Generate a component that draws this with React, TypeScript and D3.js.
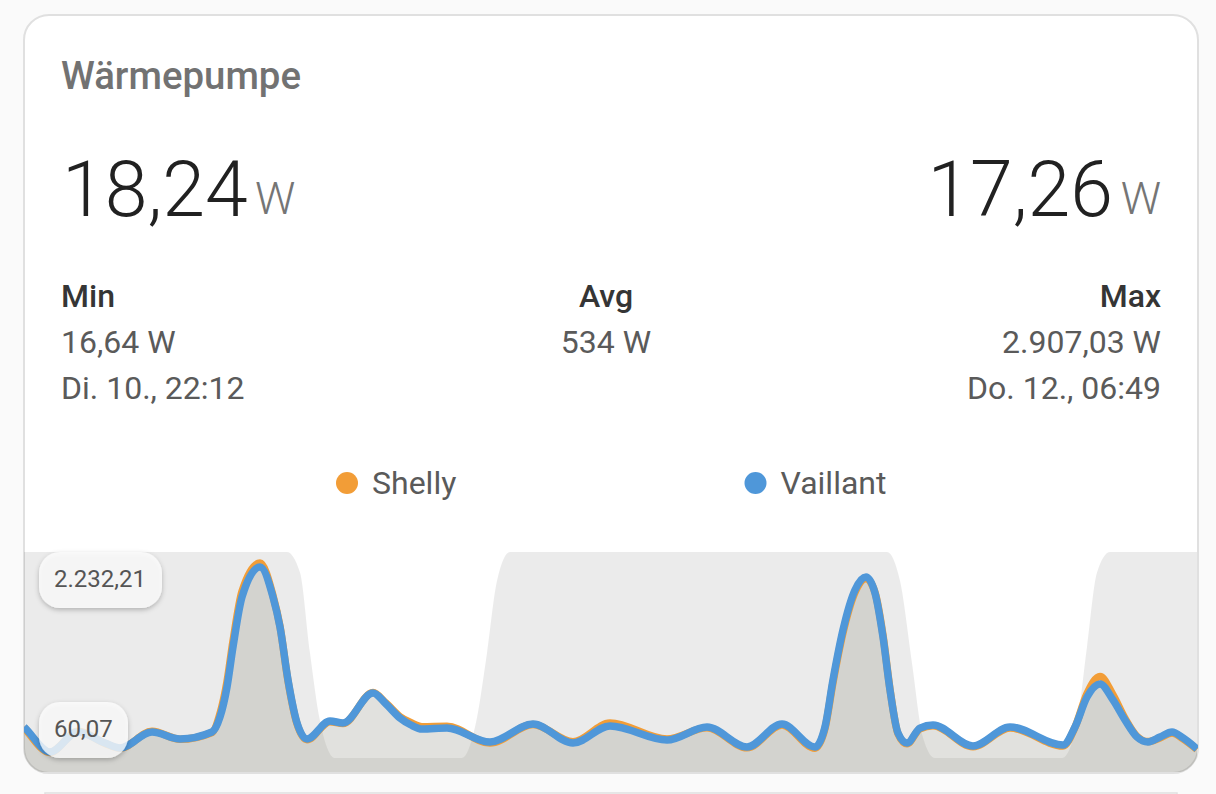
import React from "react";
import * as d3 from "d3";

const title = "Wärmepumpe";
const legendNames = ["Shelly", "Vaillant"];
const seriesColors = ["#f29d37", "#4f97d9"];
const currentValues = ["18,24", "17,26"];
const statHeads = ["Min", "Avg", "Max"];
const statValues = ["16,64 W", "534 W", "2.907,03 W"];
const statTimes = ["Di. 10., 22:12", "", "Do. 12., 06:49"];
const pillLabels = ["2.232,21", "60,07"];

const times = [0,1,26,54,81,96,128,156,188,196,203,209,218,236,249,256,264,273,283,306,319,349,362,376,387,398,423,466,509,549,586,643,683,723,758,791,801,809,819,831,842,851,859,866,874,883,896,909,949,986,1039,1051,1063,1076,1089,1101,1113,1124,1136,1148,1159,1173];
const vaillant = [320,309,24,262,131,72,262,179,262,440,796,1271,1864,2220,1864,1508,879,369,179,392,369,725,594,428,345,297,309,143,357,131,333,167,321,84,357,84,321,879,1473,1947,2102,1912,1389,760,250,131,309,345,96,321,107,321,677,832,642,404,202,143,202,262,191,60];
const shelly = [320,305,20,270,127,68,270,175,256,480,860,1340,1930,2268,1880,1515,870,360,170,385,362,730,604,444,372,325,329,130,350,146,369,179,312,74,345,70,305,850,1440,1920,2085,1920,1410,770,242,122,300,335,88,310,95,318,717,922,702,424,210,148,192,250,182,55];

const bandTimes = [0,263,276,286,296,311,438,451,463,473,486,863,876,888,899,911,1038,1053,1063,1073,1086,1173];
const bandLevels = [100,100,90,51,18,0,0,15,51,86,100,100,86,46,10,0,0,17,54,90,100,100];

const W = 1216, H = 794;
const L = 24, R = 1197, CHART_BOTTOM = 772;

const x = d3.scaleLinear().domain([0, 1173]).range([L, R]);
const y = d3.scaleLinear().domain([60.07, 2232.21]).range([749, 566]);
const yBand = d3.scaleLinear().domain([0, 100]).range([758, 552]);

const line = d3.line<number>().x((_, i) => x(times[i])).y((d) => y(d)).curve(d3.curveMonotoneX);
const area = d3.area<number>().x((_, i) => x(times[i])).y0(CHART_BOTTOM).y1((d) => y(d)).curve(d3.curveMonotoneX);
const bandArea = d3.area<number>().x((_, i) => x(bandTimes[i])).y0(CHART_BOTTOM).y1((d) => yBand(d)).curve(d3.curveMonotoneX);

const font = "Roboto, sans-serif";

function Pill({ px, py, w, h, label }: { px: number; py: number; w: number; h: number; label: string }) {
  return (
    <g>
      <rect x={px} y={py} width={w} height={h} rx={21} fill="#fff" fillOpacity={0.76} filter="url(#pillShadow)" />
      <text x={px + 15} y={py + h / 2 + 7} fontFamily={font} fontSize={24} fill="#555">{label}</text>
    </g>
  );
}

export default function App() {
  return (
    <svg width={W} height={H} style={{ position: "fixed", left: 0, top: 0 }}>
      <defs>
        <clipPath id="cardClip">
          <rect x={24} y={16} width={1174} height={757} rx={24} />
        </clipPath>
        <filter id="pillShadow" x="-30%" y="-30%" width="160%" height="170%">
          <feDropShadow dx={0} dy={2} stdDeviation={2.5} floodColor="#000" floodOpacity={0.32} />
        </filter>
      </defs>
      <rect width={W} height={H} fill="#fafafa" />
      <rect x={45} y={793} width={1132} height={20} fill="#fff" stroke="#e0e0e0" strokeWidth={1.5} />
      <rect x={24} y={15} width={1174} height={758} rx={25} fill="#fff" stroke="#e0e0e0" strokeWidth={2} />

      <text x={61} y={89} fontFamily={font} fontWeight={500} fontSize={38.4} fill="#727272">{title}</text>

      <text x={62} y={216} fontFamily={font} fontWeight={300} fontSize={77} fill="#212121">{currentValues[0]}</text>
      <text x={255} y={214} fontFamily={font} fontWeight={300} fontSize={45} fill="#757575">W</text>
      <text x={1113} y={216} textAnchor="end" fontFamily={font} fontWeight={300} fontSize={77} fill="#212121">{currentValues[1]}</text>
      <text x={1161} y={214} textAnchor="end" fontFamily={font} fontWeight={300} fontSize={45} fill="#757575">W</text>

      {statHeads.map((s, i) => {
        const px = [61, 606, 1161][i];
        const anchor = ["start", "middle", "end"][i] as "start" | "middle" | "end";
        return (
          <g key={s} fontFamily={font} fontSize={32} textAnchor={anchor}>
            <text x={px} y={307} fontWeight={500} fontSize={32} fill="#353535">{s}</text>
            <text x={px} y={353} fill="#5a5a5a">{statValues[i]}</text>
            <text x={px} y={399} fill="#5a5a5a">{statTimes[i]}</text>
          </g>
        );
      })}

      {legendNames.map((n, i) => {
        const cx = [347, 755.5][i];
        return (
          <g key={n}>
            <circle cx={cx} cy={483} r={11} fill={seriesColors[i]} />
            <text x={cx + 25} y={494} fontFamily={font} fontSize={32} fill="#5a5a5a">{n}</text>
          </g>
        );
      })}

      <g clipPath="url(#cardClip)">
        <path d={bandArea(bandLevels) ?? ""} fill="#000" fillOpacity={0.078} />
        <path d={area(shelly) ?? ""} fill="#9e9e91" fillOpacity={0.16} />
        <path d={area(vaillant) ?? ""} fill="#9e9e91" fillOpacity={0.16} />
        <path d={line(shelly) ?? ""} fill="none" stroke={seriesColors[0]} strokeWidth={7.5} strokeLinejoin="round" />
        <path d={line(vaillant) ?? ""} fill="none" stroke={seriesColors[1]} strokeWidth={7.5} strokeLinejoin="round" />
      </g>

      <Pill px={39} py={552} w={123} h={56} label={pillLabels[0]} />
      <Pill px={39} py={702} w={89} h={56} label={pillLabels[1]} />
    </svg>
  );
}
